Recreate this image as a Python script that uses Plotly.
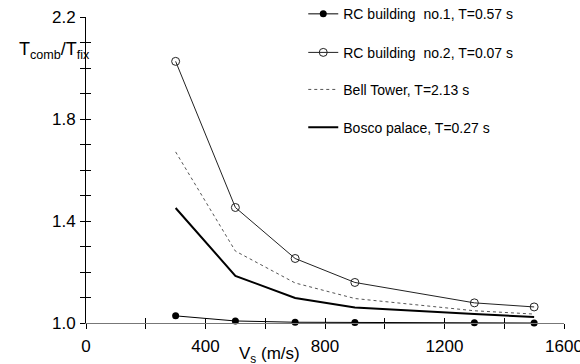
import plotly.graph_objects as go

vs = [300, 500, 700, 900, 1300, 1500]
rc1 = [1.028, 1.008, 1.003, 1.002, 1.001, 1.000]
rc2 = [2.026, 1.453, 1.253, 1.159, 1.079, 1.063]
bell = [1.671, 1.282, 1.157, 1.096, 1.048, 1.035]
bosco = [1.451, 1.185, 1.098, 1.061, 1.035, 1.024]

names = ["RC building\u00a0 no.1, T=0.57 s", "RC building\u00a0 no.2, T=0.07 s",
         "Bell Tower, T=2.13 s", "Bosco palace, T=0.27 s"]

x_ticks = [0, 200, 400, 600, 800, 1000, 1200, 1400, 1600]
x_labels = ["0", "", "400", "", "800", "", "1200", "", "1600"]
y_ticks = [1.0, 1.1, 1.2, 1.3, 1.4, 1.5, 1.6, 1.7, 1.8, 1.9, 2.0, 2.1, 2.2]
y_labels = ["1.0", "", "", "", "1.4", "", "", "", "1.8", "", "", "", "2.2"]

FONT = "Liberation Sans, Arial, sans-serif"

legend_rows = [1.009, 0.883, 0.762, 0.638]

fig = go.Figure()
fig.add_trace(go.Scatter(x=vs, y=rc1, name=names[0], mode="lines+markers",
                         line=dict(color="black", width=1),
                         marker=dict(symbol="circle", size=7, color="black"),
                         cliponaxis=False, legend="legend"))
fig.add_trace(go.Scatter(x=vs, y=rc2, name=names[1], mode="lines+markers",
                         line=dict(color="#222", width=1),
                         marker=dict(symbol="circle-open", size=8, color="#222", line=dict(width=1)),
                         cliponaxis=False, legend="legend2"))
fig.add_trace(go.Scatter(x=vs, y=bell, name=names[2], mode="lines",
                         line=dict(color="#555", width=1, dash="dot"),
                         legend="legend3"))
fig.add_trace(go.Scatter(x=vs, y=bosco, name=names[3], mode="lines",
                         line=dict(color="black", width=2),
                         legend="legend4"))
# hidden trace anchoring the overlay axes that carry the inside half of the ticks
fig.add_trace(go.Scatter(x=vs, y=rc1, xaxis="x2", yaxis="y2", mode="lines",
                         line=dict(width=0), opacity=0, showlegend=False,
                         hoverinfo="skip"))

def leg(yc):
    return dict(x=0.4545, y=yc, xanchor="left", yanchor="middle",
                font=dict(size=14, family=FONT), bgcolor="rgba(0,0,0,0)")

tick_style = dict(tickcolor="black", tickwidth=1, ticklen=5)

fig.update_layout(
    template="none",
    width=580, height=364,
    margin=dict(l=86, r=16, t=17, b=41, autoexpand=False),
    paper_bgcolor="white", plot_bgcolor="white",
    font=dict(family=FONT, color="black"),
    xaxis=dict(range=[0, 1600], tickmode="array", tickvals=x_ticks, ticktext=x_labels,
               ticks="outside", **tick_style,
               tickfont=dict(size=17), ticklabeloverflow="allow",
               ticklabelstandoff=3,
               showgrid=False, zeroline=False, showline=True,
               linecolor="#777", linewidth=1),
    yaxis=dict(range=[1.0, 2.2], tickmode="array", tickvals=y_ticks, ticktext=y_labels,
               ticks="outside", **tick_style,
               tickfont=dict(size=17), ticklabelstandoff=1,
               showgrid=False, zeroline=False, showline=True,
               linecolor="black", linewidth=1),
    xaxis2=dict(range=[0, 1600], overlaying="x", tickmode="array", tickvals=x_ticks,
                showticklabels=False, ticks="inside", **tick_style,
                showgrid=False, zeroline=False, showline=False),
    yaxis2=dict(range=[1.0, 2.2], overlaying="y", tickmode="array", tickvals=y_ticks,
                showticklabels=False, ticks="inside", **tick_style,
                showgrid=False, zeroline=False, showline=False),
    legend=leg(legend_rows[0]),
    legend2=leg(legend_rows[1]),
    legend3=leg(legend_rows[2]),
    legend4=leg(legend_rows[3]),
    showlegend=True,
    annotations=[
        dict(text="T<sub>comb</sub>/T<sub>fix</sub>", xref="paper", yref="paper",
             x=-0.1445, y=0.89, xanchor="left", yanchor="middle",
             showarrow=False, font=dict(size=18, family=FONT)),
        dict(text="V<sub>s</sub> (m/s)", xref="paper", yref="paper",
             x=0.316, y=-0.105, xanchor="left", yanchor="middle",
             showarrow=False, font=dict(size=17, family=FONT)),
    ],
)

fig.write_html("out.html")
